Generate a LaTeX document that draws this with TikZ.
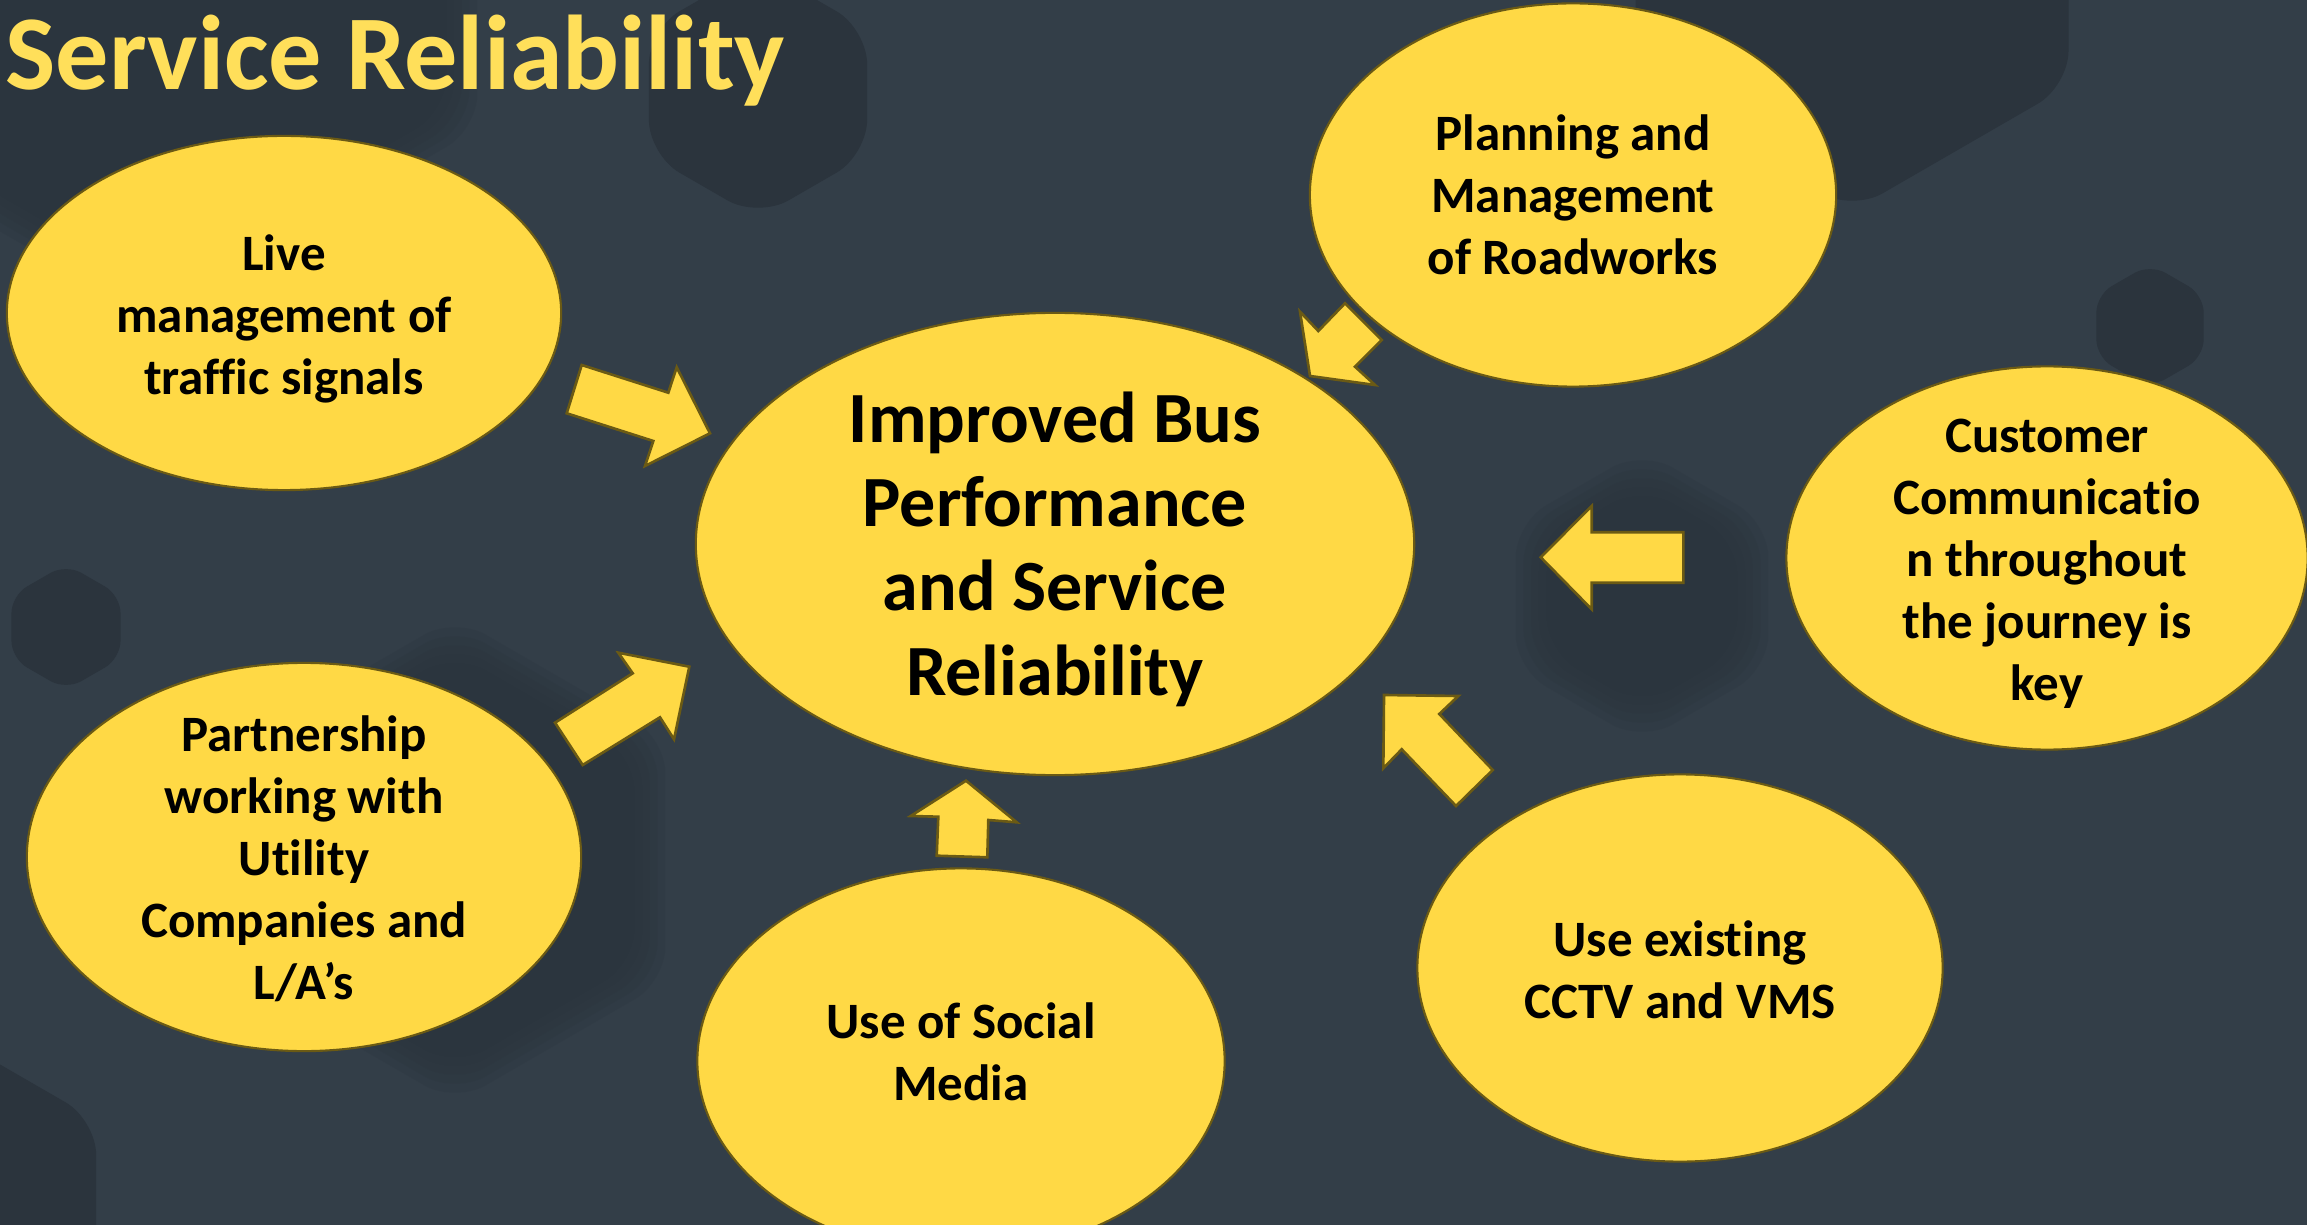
\documentclass[tikz,border=0pt]{standalone}
\usepackage{fontspec}
\setmainfont{Carlito}[Ligatures={NoCommon}]
\usetikzlibrary{shapes.geometric}

\definecolor{bg}{HTML}{333E48}
\definecolor{hexcol}{HTML}{2B343D}
\definecolor{sun}{HTML}{FFD945}
\definecolor{rim}{HTML}{6B5A14}
\definecolor{titlecol}{HTML}{FFDF5A}

% rounded pointy-top hexagon: centre x, centre y, radius, options
\newcommand\hexshape[4]{%
  \fill[hexcol, rounded corners=10pt, #4, shift={(#1,#2)}]
    (90:#3) -- (30:#3) -- (-30:#3) -- (-90:#3) -- (-150:#3) -- (150:#3) -- cycle;}
% same hexagon with soft, faded edges
\newcommand\softhex[3]{%
  \foreach \dr in {18,9,0,-9,-18}{%
    \hexshape{#1}{#2}{#3+\dr}{opacity=0.26}}}

\begin{document}
\begin{tikzpicture}[x=0.01cm, y=-0.01cm,
  bubble/.style={ellipse, draw=rim, fill=sun, line width=0.6pt, inner sep=0pt},
  bubbletext/.style={align=center, text=black, inner sep=0pt,
    font=\bfseries\fontsize{14.5}{17.6}\selectfont},
  hubtext/.style={align=center, text=black, inner sep=0pt,
    font=\bfseries\fontsize{20.5}{24}\selectfont},
  blockarrow/.style={draw=rim, fill=sun, line width=0.75pt, line join=miter}]

\useasboundingbox (0,0) rectangle (2307,1225);
\clip (0,0) rectangle (2307,1225);
\fill[bg] (0,0) rectangle (2307,1225);

% background hexagons
\softhex{150}{-60}{360}
\hexshape{758}{92}{126}{}
\hexshape{1852}{-39}{250}{}
\hexshape{2150}{326}{62}{rounded corners=5pt}
\hexshape{66}{627}{63}{rounded corners=5pt}
\hexshape{-77}{1220}{200}{}
\softhex{1642}{596}{128}
\softhex{455}{860}{225}

% title
\node[anchor=base west, inner sep=0pt, text=titlecol,
      font=\bfseries\fontsize{30.2}{36}\selectfont] (title) at (5,90) {Service Reliability};

% bubbles
\node[bubble, minimum width=5.54cm, minimum height=3.54cm] (live) at (284,313) {};
\node[bubble, minimum width=5.26cm, minimum height=3.83cm] (plan) at (1573,195) {};
\node[bubble, minimum width=7.18cm, minimum height=4.62cm] (hub) at (1055,544) {};
\node[bubble, minimum width=5.21cm, minimum height=3.83cm] (cust) at (2047,558) {};
\node[bubble, minimum width=5.54cm, minimum height=3.88cm] (part) at (304,857) {};
\node[bubble, minimum width=5.27cm, minimum height=3.85cm] (social) at (961,1061) {};
\node[bubble, minimum width=5.25cm, minimum height=3.87cm] (cctv) at (1680,968) {};

% bubble texts
\node[bubbletext] (livetext) at (284,319) {Live\\management of\\traffic signals};
\node[bubbletext] (plantext) at (plan.center) {Planning and\\Management\\of Roadworks};
\node[hubtext] (hubtext) at (1055,549) {Improved Bus\\Performance\\and Service\\Reliability};
\node[bubbletext] (custtext) at (2047,564) {Customer\\Communicatio\\n throughout\\the journey is\\key};
\node[bubbletext] (parttext) at (304,859) {Partnership\\working with\\Utility\\Companies and\\L/A’s};
\node[bubbletext] (socialtext) at (961,1052) {Use of Social\\Media};
\node[bubbletext] (cctvtext) at (1680,970) {Use existing\\CCTV and VMS};

% block arrows pointing at the hub
\path[blockarrow] (581.7,365) -- (668.3,392.7) -- (676.7,367.3) -- (710,433.3)
  -- (645,466) -- (653.3,441) -- (566.7,413.3) -- cycle;
\path[blockarrow] (1310,376) -- (1300,311.7) -- (1318.3,331) -- (1345,303.3)
  -- (1381.7,340) -- (1355,366.7) -- (1375,385) -- cycle;
\path[blockarrow] (1540.7,557.3) -- (1591.7,506) -- (1591.7,532.3) -- (1683.3,532.3)
  -- (1683.3,582.7) -- (1591.7,582.7) -- (1591.7,609.3) -- cycle;
\path[blockarrow] (1384,695) -- (1458.3,696) -- (1439.3,714) -- (1492.7,770)
  -- (1456,806) -- (1401.7,749.3) -- (1383.3,768.3) -- cycle;
\path[blockarrow] (966,780.7) -- (1016.7,822.3) -- (988.3,820) -- (987.3,857.3)
  -- (936.7,855.7) -- (938.3,816.7) -- (910.7,816) -- cycle;
\path[blockarrow] (689.3,666.7) -- (674,739.3) -- (660,717.3) -- (582.7,765)
  -- (555,722.7) -- (632.7,673.3) -- (618.3,652.7) -- cycle;
\end{tikzpicture}
\end{document}
